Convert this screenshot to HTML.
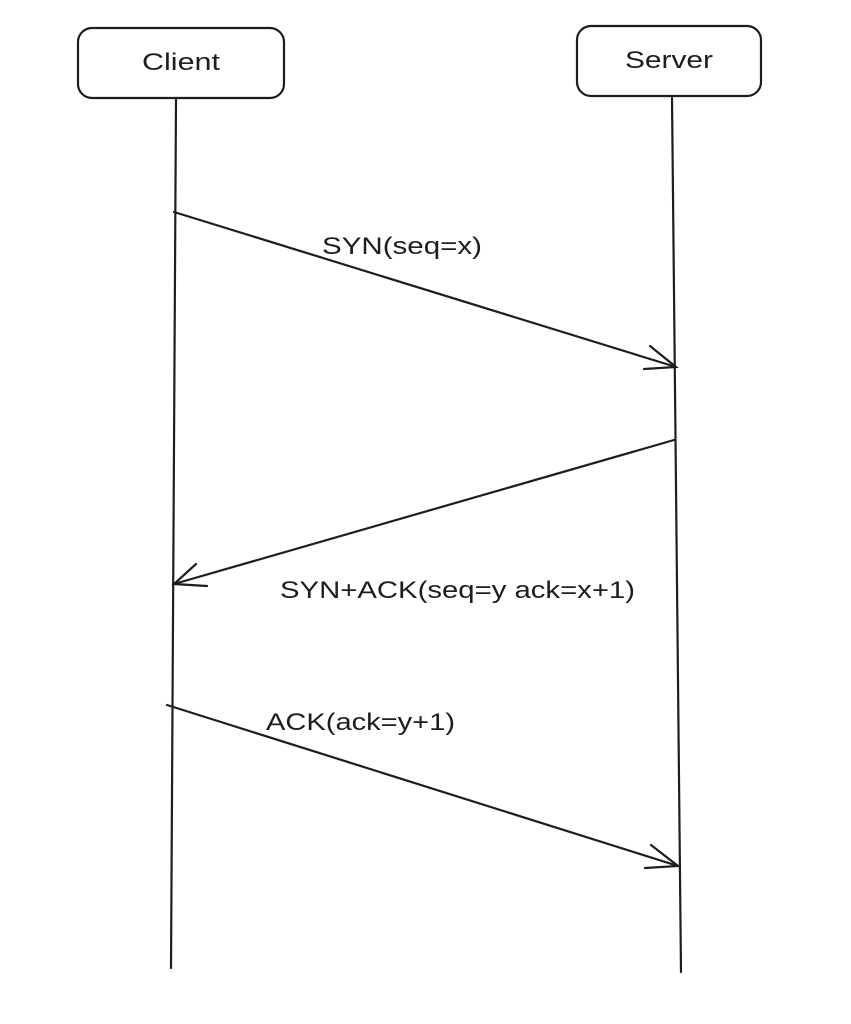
<!DOCTYPE html>
<html><head><meta charset="utf-8"><style>
html,body{margin:0;padding:0;background:#fff;}
svg{display:block;}
text{font-family:"Liberation Sans",sans-serif;fill:#1e1e1e;}
</style></head><body>
<svg width="851" height="1024" viewBox="0 0 851 1024" xmlns="http://www.w3.org/2000/svg">
<g fill="none" stroke="#1e1e1e" stroke-width="2.2" stroke-linecap="round">
<rect x="78" y="28" width="206" height="70" rx="14"/>
<rect x="577" y="26" width="184" height="70" rx="14"/>
<line x1="176" y1="99" x2="171" y2="968"/>
<line x1="672" y1="98" x2="681" y2="972"/>
<line x1="174" y1="212" x2="676" y2="367"/>
<polyline points="650,346 676,367 644,369"/>
<line x1="674" y1="440" x2="174" y2="584"/>
<polyline points="196,564 174,584 207,586"/>
<line x1="167" y1="705" x2="678" y2="866"/>
<polyline points="651,845 678,866 645,868"/>
</g>
<text x="142" y="70" font-size="24" textLength="78" lengthAdjust="spacingAndGlyphs">Client</text>
<text x="625" y="68" font-size="24" textLength="88" lengthAdjust="spacingAndGlyphs">Server</text>
<text x="322" y="254" font-size="24" textLength="160" lengthAdjust="spacingAndGlyphs">SYN(seq=x)</text>
<text x="280" y="598" font-size="24" textLength="355" lengthAdjust="spacingAndGlyphs">SYN+ACK(seq=y ack=x+1)</text>
<text x="266" y="730" font-size="24" textLength="189" lengthAdjust="spacingAndGlyphs">ACK(ack=y+1)</text>
</svg>
</body></html>
